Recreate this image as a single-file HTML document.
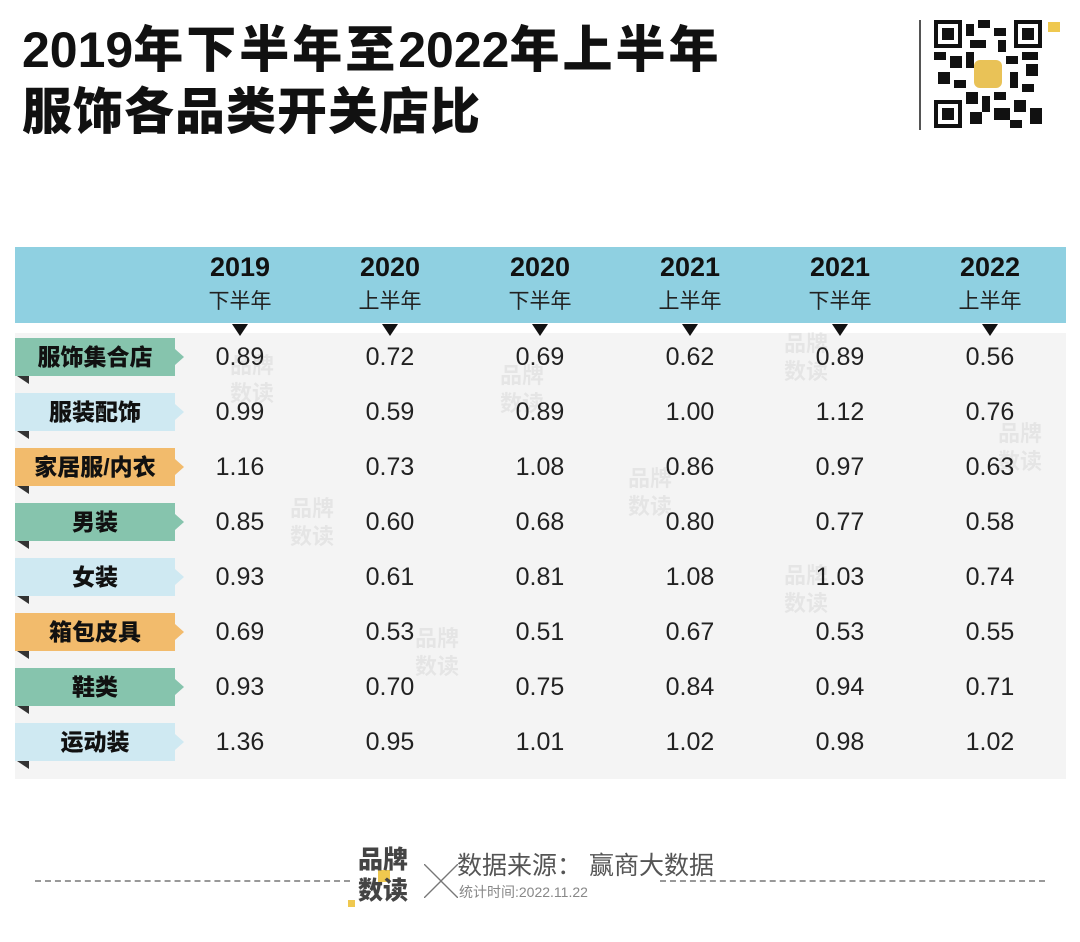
<!DOCTYPE html>
<html><head><meta charset="utf-8"><style>
*{margin:0;padding:0;box-sizing:border-box}
body{width:1080px;height:942px;background:#fff;position:relative;overflow:hidden;font-family:"Liberation Sans","Noto Sans CJK SC",sans-serif;color:#111}
.abs{position:absolute}
.title{left:22px;font-size:50px;font-weight:900;letter-spacing:3px;line-height:60px}
.title .n{letter-spacing:0}
.hdr{left:15px;top:247px;width:1051px;height:76px;background:#8fd0e1}
.body{left:15px;top:333px;width:1051px;height:446px;background:#f4f4f4}
.col{position:absolute;width:150px;text-align:center}
.yr{font-size:27px;font-weight:900;top:252px}
.hf{font-size:21px;top:285px;color:#222}
.tri{position:absolute;top:324px;width:0;height:0;border-left:8px solid transparent;border-right:8px solid transparent;border-top:12px solid #111}
.tab{position:absolute;left:15px;width:160px;height:38px;font-size:23px;font-weight:900;text-align:center;line-height:38px}
.tip{position:absolute;width:0;height:0;border-top:8px solid transparent;border-bottom:8px solid transparent}
.corner{position:absolute;left:17px;width:0;height:0;border-top:8px solid #333;border-left:12px solid transparent}
.val{position:absolute;width:150px;text-align:center;font-size:25px;color:#222}
.wm{position:absolute;font-size:22px;font-weight:700;color:rgba(0,0,0,0.06);line-height:28px}
</style></head><body>
<div class="abs title" style="top:20px"><span class="n">2019</span>年下半年至<span class="n">2022</span>年上半年</div>
<div class="abs title" style="top:82px;letter-spacing:1px">服饰各品类开关店比</div>
<div class="abs" style="left:919px;top:20px;width:2px;height:110px;background:#555"></div>
<svg class="abs" style="left:934px;top:20px" width="108" height="108" viewBox="0 0 27 27">
<rect width="27" height="27" fill="#fff"/>
<g fill="#111">
<rect x="0" y="0" width="7" height="7"/><rect x="20" y="0" width="7" height="7"/><rect x="0" y="20" width="7" height="7"/>
</g><g fill="#fff"><rect x="1" y="1" width="5" height="5"/><rect x="21" y="1" width="5" height="5"/><rect x="1" y="21" width="5" height="5"/></g>
<g fill="#111"><rect x="2" y="2" width="3" height="3"/><rect x="22" y="2" width="3" height="3"/><rect x="2" y="22" width="3" height="3"/>
<rect x="8" y="1" width="2" height="3"/><rect x="11" y="0" width="3" height="2"/><rect x="15" y="2" width="3" height="2"/><rect x="9" y="5" width="4" height="2"/><rect x="16" y="5" width="2" height="3"/>
<rect x="0" y="8" width="3" height="2"/><rect x="4" y="9" width="3" height="3"/><rect x="8" y="8" width="2" height="4"/><rect x="18" y="9" width="3" height="2"/><rect x="22" y="8" width="4" height="2"/><rect x="23" y="11" width="3" height="3"/>
<rect x="1" y="13" width="3" height="3"/><rect x="5" y="15" width="3" height="2"/><rect x="19" y="13" width="2" height="4"/><rect x="22" y="16" width="3" height="2"/>
<rect x="8" y="18" width="3" height="3"/><rect x="12" y="19" width="2" height="4"/><rect x="15" y="18" width="3" height="2"/><rect x="9" y="23" width="3" height="3"/><rect x="15" y="22" width="4" height="3"/><rect x="20" y="20" width="3" height="3"/><rect x="24" y="22" width="3" height="4"/><rect x="19" y="25" width="3" height="2"/>
</g>
<rect x="10" y="10" width="7" height="7" rx="1.5" fill="#e9c257"/>
</svg>
<div class="abs" style="left:1048px;top:22px;width:12px;height:10px;background:#efc84f"></div>

<div class="abs hdr"></div>
<div class="abs body"></div>
<div id="tbl"></div>

<div class="abs" style="left:35px;top:880px;width:315px;border-top:2px dashed #999"></div>
<div class="abs" style="left:660px;top:880px;width:385px;border-top:2px dashed #999"></div>
<div class="abs" style="left:378px;top:870px;width:12px;height:12px;background:#efc84f"></div>
<div class="abs" style="left:348px;top:900px;width:7px;height:7px;background:#efc84f"></div>
<div class="abs" style="left:358px;top:845px;font-size:25px;font-weight:900;line-height:31px;color:#444">品牌<br>数读</div>
<div class="abs" style="left:424px;top:855px;font-size:34px;color:#777;font-weight:200">╳</div>
<div class="abs" style="left:457px;top:846px;font-size:25px;color:#555">数据来源： 赢商大数据</div>
<div class="abs" style="left:459px;top:882px;font-size:14px;color:#888">统计时间:2022.11.22</div>

<script>
const years=["2019","2020","2020","2021","2021","2022"];
const halves=["下半年","上半年","下半年","上半年","下半年","上半年"];
const categories=["服饰集合店","服装配饰","家居服/内衣","男装","女装","箱包皮具","鞋类","运动装"];
const tabColors=["#86c4ad","#cfe9f2","#f2bb6c","#86c4ad","#cfe9f2","#f2bb6c","#86c4ad","#cfe9f2"];
const v2019H2=[0.89,0.99,1.16,0.85,0.93,0.69,0.93,1.36];
const v2020H1=[0.72,0.59,0.73,0.60,0.61,0.53,0.70,0.95];
const v2020H2=[0.69,0.89,1.08,0.68,0.81,0.51,0.75,1.01];
const v2021H1=[0.62,1.00,0.86,0.80,1.08,0.67,0.84,1.02];
const v2021H2=[0.89,1.12,0.97,0.77,1.03,0.53,0.94,0.98];
const v2022H1=[0.56,0.76,0.63,0.58,0.74,0.55,0.71,1.02];
const series=[v2019H2,v2020H1,v2020H2,v2021H1,v2021H2,v2022H1];
const colX=i=>240+150*i;
const rowY=j=>357+55*j;
const t=document.getElementById('tbl');
function add(cls,style,txt){const d=document.createElement('div');d.className=cls;d.style.cssText=style;if(txt!=null)d.textContent=txt;t.appendChild(d);return d;}
years.forEach((y,i)=>{
 let a=add('col yr','left:'+(colX(i)-75)+'px',y);
 
 
 let b=add('col hf','left:'+(colX(i)-75)+'px',halves[i]);
 
 
 let c=add('tri','left:'+(colX(i)-8)+'px');
 
 
});
categories.forEach((c,j)=>{
 const y=rowY(j);
 let tb=add('tab','top:'+(y-19)+'px;background:'+tabColors[j],c);
 
 
 let tp=add('tip','left:175px;top:'+(y-8)+'px;border-left:9px solid '+tabColors[j]);
 
 
 let co=add('corner','top:'+(y+19)+'px');
 
 
 series.forEach((s,i)=>{
  let v=add('val','left:'+(colX(i)-75)+'px;top:'+(y-14)+'px',s[j].toFixed(2));
  
  
 });
});
const wms=[[230,352],[500,362],[998,420],[628,465],[290,495],[784,330],[784,562],[415,625]];
wms.forEach(p=>{
 let w=add('wm','left:'+p[0]+'px;top:'+p[1]+'px');
 w.innerHTML='品牌<br>数读';
 
 
});
</script>
</body></html>
